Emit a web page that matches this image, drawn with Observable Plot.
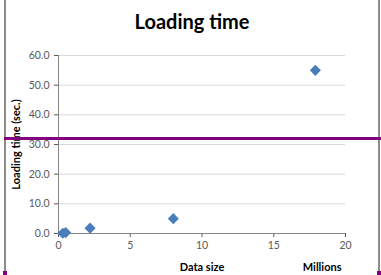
<!DOCTYPE html>
<html>
<head>
<meta charset="utf-8">
<script src="https://cdn.jsdelivr.net/npm/d3@7"></script>
<script src="https://cdn.jsdelivr.net/npm/@observablehq/plot@0.6"></script>
<style>
  html, body { margin: 0; padding: 0; background: #fff; }
  #wrap { position: relative; width: 381px; height: 275px; overflow: hidden; }
  .deco { position: absolute; }
</style>
</head>
<body>
<div id="wrap"></div>
<script>
const chartTitle = "Loading time";
const xLabel = "Data size";
const xUnitLabel = "Millions";
const yLabel = "Loading time (sec.)";
const dataSize = [0.3, 0.5, 2.2, 8.0, 17.9];
const loadTime = [0.1, 0.3, 1.8, 5.0, 55.0];
const xTicks = [0, 5, 10, 15, 20];
const yTicks = [0, 10, 20, 30, 40, 50, 60];

const data = dataSize.map((d, i) => ({size: d, time: loadTime[i]}));

const chart = Plot.plot({
  width: 381,
  height: 275,
  marginLeft: 58,
  marginRight: 36,
  marginTop: 55,
  marginBottom: 42,
  style: {fontFamily: "Lato, 'Open Sans', sans-serif", fontSize: "10.5px", color: "#595959", background: "transparent"},
  x: {domain: [0, 20], ticks: xTicks, tickFormat: d => String(d), tickSize: 4, tickPadding: 4, label: null},
  y: {domain: [0, 60], ticks: yTicks, tickFormat: d => d.toFixed(1), tickSize: 4, tickPadding: 5, label: null},
  marks: [
    Plot.ruleY(yTicks, {stroke: "#d9d9d9"}),
    Plot.ruleX([0], {stroke: "#868686"}),
    Plot.ruleY([0], {stroke: "#868686"}),
    Plot.dot(data, {x: "size", y: "time", symbol: "diamond2", r: 5, fill: "#4a7ebb", stroke: "none"}),
    Plot.text([chartTitle], {frameAnchor: "top", lineAnchor: "middle", dx: -10, dy: -33, fontSize: 20, fontWeight: "bold", fill: "#000"}),
    Plot.text([yLabel], {frameAnchor: "left", lineAnchor: "middle", textAnchor: "middle", rotate: -90, dx: -42, fontSize: 11, fontWeight: "bold", fill: "#000"}),
    Plot.text([xLabel], {frameAnchor: "bottom", lineAnchor: "middle", dy: 34, fontSize: 11, fontWeight: "bold", fill: "#000"}),
    Plot.text([xUnitLabel], {frameAnchor: "bottom-right", lineAnchor: "middle", textAnchor: "end", dx: -4, dy: 34, fontSize: 11, fontWeight: "bold", fill: "#000"})
  ]
});

const wrap = document.getElementById("wrap");
wrap.appendChild(chart);
chart.style.position = "absolute";
chart.style.left = "0px";
chart.style.top = "0px";

function deco(left, top, w, h, color) {
  const d = document.createElement("div");
  d.className = "deco";
  d.style.left = left + "px";
  d.style.top = top + "px";
  d.style.width = w + "px";
  d.style.height = h + "px";
  d.style.background = color;
  wrap.appendChild(d);
}
deco(4, 0, 2, 273, "#8c8c8c");
deco(378, 0, 2, 273, "#8c8c8c");
deco(4, 137, 377, 3, "#800080");
deco(3, 271, 4, 4, "#800080");
deco(377, 271, 4, 4, "#800080");
</script>
</body>
</html>
